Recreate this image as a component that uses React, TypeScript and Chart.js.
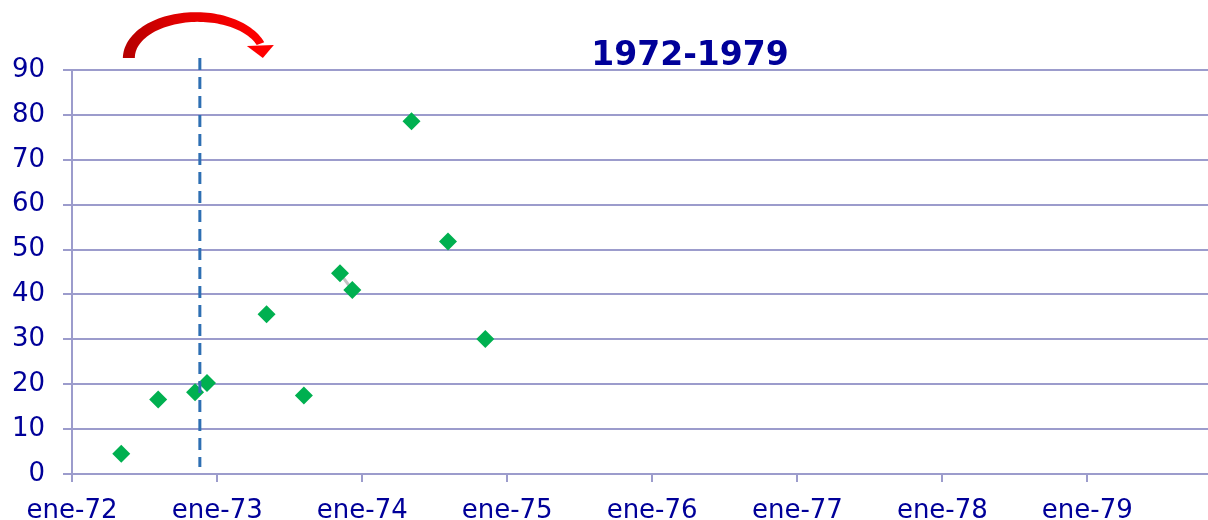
import React, { useEffect, useRef } from "react";
import { Chart, registerables } from "chart.js";

Chart.register(...registerables);

// ---- data ----
const pointDates: string[] = [
  "1972-05-04", "1972-08-05", "1972-11-06", "1972-12-06",
  "1973-05-05", "1973-08-07", "1973-11-06", "1973-12-07",
  "1974-05-05", "1974-08-05", "1974-11-07",
];
const pointValues: number[] = [4.5, 16.6, 18.2, 20.3, 35.6, 17.5, 44.7, 41.0, 78.6, 51.8, 30.1];
const connectorDates: string[] = ["1973-11-06", "1973-12-07"];
const connectorValues: number[] = [44.7, 41.0];
const tickYears: number[] = [1972, 1973, 1974, 1975, 1976, 1977, 1978, 1979];
const monthAbbr: string[] = ["ene", "feb", "mar", "abr", "may", "jun", "jul", "ago", "sep", "oct", "nov", "dic"];
const axisMinDate = "1972-01-01";
const axisMaxDate = "1979-11-01";
const markerDate = "1972-11-18";
const chartTitle = "1972-1979";

const toMs = (s: string) => {
  const [y, m, d] = s.split("-").map(Number);
  return Date.UTC(y, m - 1, d);
};

const NAVY = "#000099";
const GRID = "#9c9ccc";
const FONT = "'DejaVu Sans', Verdana, sans-serif";

const decorPlugin = {
  id: "decor",
  afterDatasetsDraw(chart: any) {
    const { ctx, chartArea, scales } = chart;
    const xs = scales.x;
    const vx = xs.getPixelForValue(toMs(markerDate));
    // dashed vertical marker
    ctx.save();
    ctx.strokeStyle = "#2e6fb3";
    ctx.lineWidth = 3;
    ctx.setLineDash([12, 7]);
    ctx.beginPath();
    ctx.moveTo(vx, chartArea.top - 12);
    ctx.lineTo(vx, chartArea.bottom - 7);
    ctx.stroke();
    ctx.restore();

    // curved red arrow
    const cx = vx - 3;
    const cy = chartArea.top - 12;
    const rx = 68;
    const ry = 41;
    const t0 = Math.PI;
    const t1 = 2 * Math.PI - 0.36;
    const outer: [number, number][] = [];
    const inner: [number, number][] = [];
    const N = 60;
    for (let i = 0; i <= N; i++) {
      const f = i / N;
      const th = t0 + f * (t1 - t0);
      const w = 12 - 4 * f;
      outer.push([cx + (rx + w / 2) * Math.cos(th), cy + (ry + w / 2) * Math.sin(th)]);
      inner.push([cx + (rx - w / 2) * Math.cos(th), cy + (ry - w / 2) * Math.sin(th)]);
    }
    ctx.save();
    const grad = ctx.createLinearGradient(cx - rx, 0, cx + rx, 0);
    grad.addColorStop(0, "#b80000");
    grad.addColorStop(0.35, "#e00000");
    grad.addColorStop(1, "#ff0000");
    ctx.fillStyle = grad;
    ctx.beginPath();
    outer.forEach(([x, y], i) => (i === 0 ? ctx.moveTo(x, y) : ctx.lineTo(x, y)));
    for (let i = inner.length - 1; i >= 0; i--) ctx.lineTo(inner[i][0], inner[i][1]);
    ctx.closePath();
    ctx.fill();
    // head
    ctx.fillStyle = "#ff0000";
    ctx.beginPath();
    ctx.moveTo(cx + 50, cy - 12);
    ctx.lineTo(cx + 77, cy - 13);
    ctx.lineTo(cx + 66, cy);
    ctx.closePath();
    ctx.fill();
    ctx.restore();

    // title
    ctx.save();
    ctx.fillStyle = NAVY;
    ctx.font = `bold 33px ${FONT}`;
    ctx.textAlign = "center";
    ctx.textBaseline = "alphabetic";
    ctx.fillText(chartTitle, chartArea.left + 618, chartArea.top - 5);
    ctx.restore();
  },
};

export default function App() {
  const ref = useRef<HTMLCanvasElement | null>(null);
  useEffect(() => {
    if (!ref.current) return;
    const chart = new Chart(ref.current, {
      type: "scatter",
      data: {
        datasets: [
          {
            type: "line",
            data: connectorDates.map((d, i) => ({ x: toMs(d), y: connectorValues[i] })),
            borderColor: "#c4c4c4",
            borderWidth: 3,
            pointRadius: 0,
            order: 2,
          } as any,
          {
            data: pointDates.map((d, i) => ({ x: toMs(d), y: pointValues[i] })),
            pointStyle: "rectRot",
            pointRadius: 9,
            pointBackgroundColor: "#00b050",
            pointBorderColor: "#00b050",
            pointBorderWidth: 0,
            order: 1,
          },
        ],
      },
      options: {
        responsive: false,
        animation: false,
        layout: { autoPadding: false, padding: { top: 70, left: 0, right: 0, bottom: 0 } },
        plugins: { legend: { display: false }, tooltip: { enabled: false }, title: { display: false } },
        scales: {
          x: {
            type: "linear",
            min: toMs(axisMinDate),
            max: toMs(axisMaxDate),
            afterBuildTicks: (scale: any) => {
              scale.ticks = tickYears.map((y) => ({ value: Date.UTC(y, 0, 1) }));
            },
            afterFit: (scale: any) => {
              scale.height = 46;
              scale.paddingLeft = 0;
              scale.paddingRight = 0;
            },
            ticks: {
              autoSkip: false,
              maxRotation: 0,
              padding: 14,
              color: NAVY,
              font: { family: FONT, size: 26 },
              callback: (v: any) => {
                const d = new Date(Number(v));
                return `${monthAbbr[d.getUTCMonth()]}-${String(d.getUTCFullYear()).slice(2)}`;
              },
            },
            grid: { drawOnChartArea: false, drawTicks: true, tickLength: 8, color: GRID, lineWidth: 2 },
            border: { display: true, color: GRID, width: 2 },
          },
          y: {
            min: 0,
            max: 90,
            afterFit: (scale: any) => {
              scale.width = 72;
              scale.paddingTop = 0;
              scale.paddingBottom = 0;
            },
            ticks: {
              stepSize: 10,
              padding: 18,
              color: NAVY,
              font: { family: FONT, size: 26 },
            },
            grid: { drawTicks: true, tickLength: 9, color: GRID, lineWidth: 2 },
            border: { display: true, color: GRID, width: 2 },
          },
        },
      },
      plugins: [decorPlugin],
    } as any);
    return () => chart.destroy();
  }, []);
  return (
    <div style={{ position: "absolute", left: 0, top: 0, width: 1208, height: 520 }}>
      <canvas ref={ref} width={1208} height={520} style={{ display: "block" }} />
    </div>
  );
}
